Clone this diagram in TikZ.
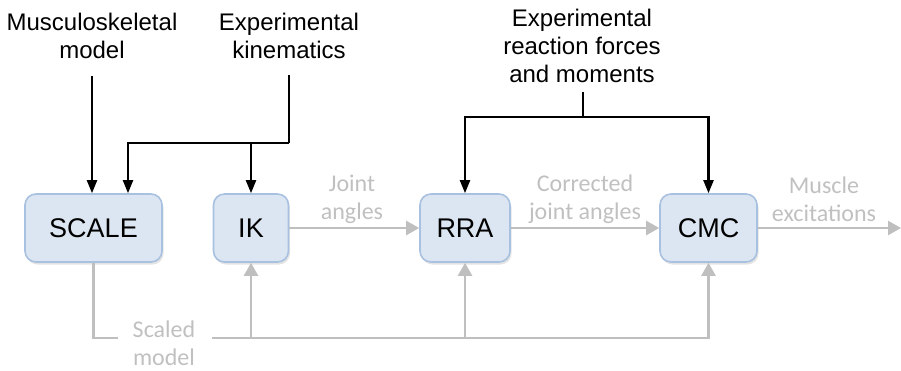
\documentclass[tikz,border=0pt]{standalone}
\usepackage{fontspec}
\setmainfont{Liberation Sans}
\newfontfamily\calib{Carlito}
\usetikzlibrary{arrows.meta,shadows}
\definecolor{boxfill}{HTML}{DCE6F2}
\definecolor{boxline}{HTML}{A9C1E0}
\definecolor{grayln}{HTML}{BFBFBF}
\definecolor{graytx}{HTML}{C0C0C0}
\tikzset{
  procbox/.style={draw=boxline, fill=boxfill, line width=1.6pt, rounded corners=11pt,
    minimum height=68pt, font=\fontsize{27}{30}\selectfont,
    drop shadow={opacity=0.22, shadow xshift=1.5pt, shadow yshift=-2.5pt}},
  toplabel/.style={align=center, inner sep=0pt, font=\fontsize{24}{28}\selectfont},
  graylabel/.style={align=center, inner sep=0pt, text=graytx, font=\calib\fontsize{24}{28}\selectfont},
  blk/.style={draw=black, line width=2.1pt, -{Triangle[length=13pt,width=10pt]}},
  blkline/.style={draw=black, line width=2.1pt},
  gry/.style={draw=grayln, line width=2.4pt, -{Triangle[length=13pt,width=14pt]}},
  gryline/.style={draw=grayln, line width=2.4pt}
}
\begin{document}
\begin{tikzpicture}[x=1pt,y=-1pt]
\useasboundingbox (0,0) rectangle (901,370);
% boxes
\node[procbox, minimum width=137pt] (scale) at (93.5,228) {SCALE};
\node[procbox, minimum width=75pt] (ik) at (251,228) {IK};
\node[procbox, minimum width=90pt] (rra) at (465,228) {RRA};
\node[procbox, minimum width=97pt] (cmc) at (708.5,228) {CMC};
% top labels
\node[toplabel] (msk) at (92,36) {Musculoskeletal\\model};
\node[toplabel] (kin) at (289,36) {Experimental\\kinematics};
\node[toplabel] (rf) at (582,46) {Experimental\\reaction forces\\and moments};
% gray labels
\node[graylabel] (ja) at (352,199) {Joint\\angles};
\node[graylabel] (cja) at (585,199) {Corrected\\joint angles};
\node[graylabel] (me) at (824,199) {Muscle\\excitations};
\node[graylabel] (sm) at (164,343) {Scaled\\model};
% coordinates
\coordinate (mk0) at (92,76);
\coordinate (k0) at (289,75);
\coordinate (kj) at (289,143);
\coordinate (r0) at (583,92);
\coordinate (rj) at (583,117);
\coordinate (out) at (901,228);
\coordinate (b0) at (118,338);
\coordinate (b1) at (212,338);
% black connectors
\draw[blk] (mk0) -- (scale.north -| mk0);
\draw[blkline] (k0) -- (kj);
\draw[blk] (kj) -| ([xshift=34.5pt]scale.north);
\draw[blk] (ik.north |- kj) -- (ik.north);
\draw[blkline] (r0) -- (rj);
\draw[blk] (rj) -| (rra.north);
\draw[blk] (rj) -| (cmc.north);
% gray connectors
\draw[gry] (ik.east) -- (rra.west);
\draw[gry] (rra.east) -- (cmc.west);
\draw[gry] (cmc.east) -- (out);
\draw[gryline] (scale.south) |- (b0);
\draw[gry] (b1) -| (cmc.south);
\draw[gry] (ik.south |- b1) -- (ik.south);
\draw[gry] (rra.south |- b1) -- (rra.south);
\end{tikzpicture}
\end{document}
